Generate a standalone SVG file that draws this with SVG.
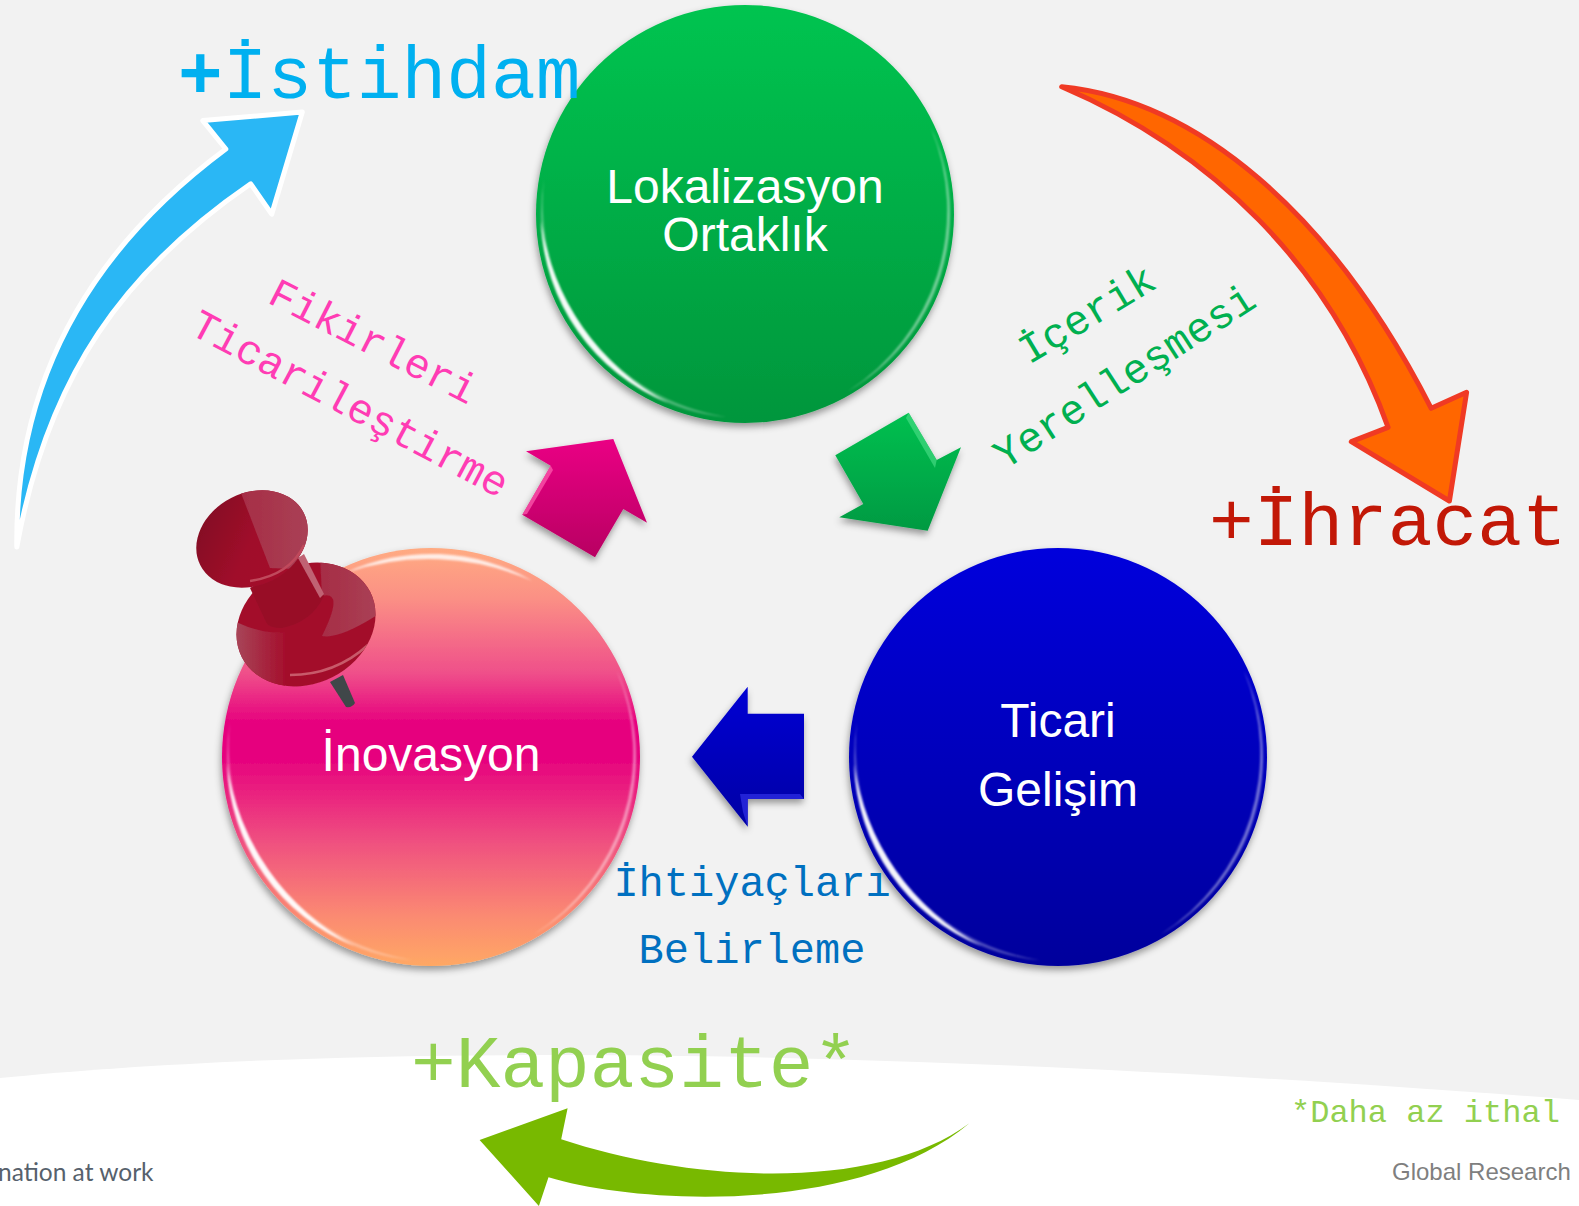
<svg xmlns="http://www.w3.org/2000/svg" xmlns:xlink="http://www.w3.org/1999/xlink" width="1579" height="1206" viewBox="0 0 1579 1206">
<style>
.mono{font-family:"Liberation Mono","DejaVu Sans Mono",monospace}
.sans{font-family:"Liberation Sans",Arial,sans-serif}
.node{font-size:48px;fill:#fff;text-anchor:middle}
.big{font-size:74.5px}
.mid{font-size:42px}
</style>
<defs>
<linearGradient id="gGreen" x1="0" y1="0" x2="0" y2="1"><stop offset="0" stop-color="#00c450"/><stop offset="1" stop-color="#00963c"/></linearGradient>
<linearGradient id="gPink" x1="0" y1="0" x2="0" y2="1"><stop offset="0" stop-color="#ffab82"/><stop offset=".12" stop-color="#fb9085"/><stop offset=".3" stop-color="#ef4f8a"/><stop offset=".42" stop-color="#e6007e"/><stop offset=".5" stop-color="#e6007e"/><stop offset=".7" stop-color="#ef4f80"/><stop offset=".88" stop-color="#fb8a72"/><stop offset="1" stop-color="#ffa864"/></linearGradient>
<linearGradient id="gBlue" x1="0" y1="0" x2="0" y2="1"><stop offset="0" stop-color="#0000dc"/><stop offset="1" stop-color="#00009c"/></linearGradient>
<linearGradient id="aPink" x1="0" y1="0" x2="0" y2="1"><stop offset="0" stop-color="#ea0084"/><stop offset="1" stop-color="#b80062"/></linearGradient>
<linearGradient id="aGreen" x1="0" y1="0" x2="0" y2="1"><stop offset="0" stop-color="#00c050"/><stop offset="1" stop-color="#009a42"/></linearGradient>
<linearGradient id="aBlue" x1="0" y1="0" x2="0" y2="1"><stop offset="0" stop-color="#0000d4"/><stop offset="1" stop-color="#0000a4"/></linearGradient>
<linearGradient id="pinDark" x1="0" y1="0" x2="1" y2="1"><stop offset="0" stop-color="#7c0e22"/><stop offset=".5" stop-color="#a00e2a"/><stop offset="1" stop-color="#a50f2d"/></linearGradient>
<linearGradient id="pinLight" x1="0" y1="0" x2="1" y2="0"><stop offset="0" stop-color="#a62c45"/><stop offset="1" stop-color="#aa4458"/></linearGradient>
<linearGradient id="pinLeft" x1="0" y1="0" x2="1" y2="0"><stop offset="0" stop-color="#a84a5c"/><stop offset="1" stop-color="#a50f2d"/></linearGradient>
<clipPath id="headClip"><ellipse cx="252" cy="539" rx="58" ry="46" transform="rotate(-27 252 539)"/></clipPath>
<clipPath id="baseClip"><ellipse cx="306" cy="624.5" rx="72" ry="59" transform="rotate(-27 306 624.5)"/></clipPath>
<filter id="shadow" x="-15%" y="-15%" width="130%" height="130%"><feDropShadow dx="-1" dy="4" stdDeviation="3.5" flood-color="#000" flood-opacity=".38"/></filter>
<filter id="soft" x="-20%" y="-20%" width="140%" height="140%"><feGaussianBlur stdDeviation="1"/></filter>
<filter id="pinBlur" x="-10%" y="-10%" width="120%" height="120%"><feGaussianBlur stdDeviation=".6"/></filter>
<g id="gloss">
<path d="M-17.8 203.2A204 204 0 0 1-200.9-35.4A217 217 0 0 0-17.8 203.2Z" fill="#fff" opacity=".3" filter="url(#soft)"/>
<path d="M-76.4 189.1A204 204 0 0 1-203.9 7.1A242 242 0 0 0-76.4 189.1Z" fill="#fff" opacity=".95" filter="url(#soft)"/>
<path d="M185.8-86.6A205 205 0 0 1 102.5 177.5A215 215 0 0 0 185.8-86.6Z" fill="#fff" opacity=".45" filter="url(#soft)"/>
</g>
</defs>
<rect width="1579" height="1206" fill="#f2f2f2"/>
<path d="M0 1078C300 1048 800 1040 1579 1100V1206H0Z" fill="#fff"/>
<g id="node-lokalizasyon">
<circle cx="745" cy="214" r="209" fill="url(#gGreen)" filter="url(#shadow)"/>
<use xlink:href="#gloss" href="#gloss" transform="translate(745 214)"/>
<text class="sans node" x="745" y="203">Lokalizasyon</text>
<text class="sans node" x="745" y="251">Ortaklık</text>
</g>
<g id="node-inovasyon">
<circle cx="431" cy="757" r="209" fill="url(#gPink)" filter="url(#shadow)"/>
<use xlink:href="#gloss" href="#gloss" transform="translate(431 757)"/>
<path d="M345.2 573A203 203 0 0 1 532.5 581A257 257 0 0 0 345.2 573Z" fill="#fff" opacity=".8" filter="url(#soft)"/>
<text class="sans node" x="431" y="771">İnovasyon</text>
</g>
<g id="node-ticari">
<circle cx="1058" cy="757" r="209" fill="url(#gBlue)" filter="url(#shadow)"/>
<use xlink:href="#gloss" href="#gloss" transform="translate(1058 757)"/>
<text class="sans node" x="1058" y="737">Ticari</text>
<text class="sans node" x="1058" y="806">Gelişim</text>
</g>
<g id="connectors">
<path d="M526 451.3L613.3 439L647 522.7L623.3 509L595 557.3L522.3 514.7L550.7 465.7Z" fill="url(#aPink)" filter="url(#shadow)"/>
<path d="M550.7 465.7L522.3 514.7L527 514L553 470" fill="#ff5fb0" opacity=".7"/>
<path d="M908.7 412.7L936.7 460L961 447.3L927.7 530.7L839.3 517.3L863.3 504L835.3 455.3Z" fill="url(#aGreen)" filter="url(#shadow)"/>
<path d="M908.7 412.7L936.7 460L935 468L906 418Z" fill="#4fe08a" opacity=".6"/>
<path d="M692 756.7L747.7 686.7V713.7H804V799H747.7V826.7Z" fill="url(#aBlue)" filter="url(#shadow)"/>
<path d="M740 794H800L804 799H747.7V826.7L743 812Z" fill="#2a2ae0" opacity=".8"/>
<path d="M1061.7 86.7C1195 100 1330 210 1431.2 408.3L1466.6 392.3L1449.4 501L1351.3 441.7L1388.1 427.3C1330 265 1210 150 1061.7 86.7Z" fill="#ff6600" stroke="#f03a24" stroke-width="5" stroke-linejoin="round"/>
<path d="M16.8 547C15 380 90 250 225.8 149L202.8 120.6L302.3 112L271.7 214.2L250.7 183.8C125 270 48 375 16.8 547Z" fill="#2ab7f5" stroke="#fff" stroke-width="5" stroke-linejoin="round"/>
<path d="M969.4 1123.3C880 1190 700 1185 561.2 1139.3L567.6 1108.3L479.6 1140L538.9 1206L548.5 1177.3C640 1205 860 1215 969.4 1123.3Z" fill="#78b900"/>
</g>
<g id="pin" filter="url(#pinBlur)">
<path d="M330 682L343 675L355 703Q352 708 346 707Z" fill="#3f4648"/>
<ellipse cx="306" cy="624.5" rx="72" ry="59" transform="rotate(-27 306 624.5)" fill="#a30f2c"/>
<g clip-path="url(#baseClip)">
<path d="M322 596Q345 590 322 636Q340 640 385 610L370 555L320 555Z" fill="url(#pinLight)"/>
<path d="M232 620Q262 635 285 632V690H232Z" fill="url(#pinLeft)"/>
<path d="M290 675Q335 675 368 645" fill="none" stroke="#c85a6a" stroke-width="2.5"/>
</g>
<path d="M250 588L302 556L324 596Q312 622 282 628Q268 628 266 622Z" fill="#980d28"/>
<path d="M298 558L304 554L324 594L320 598Z" fill="#c06273"/>
<ellipse cx="252" cy="539" rx="58" ry="46" transform="rotate(-27 252 539)" fill="url(#pinDark)"/>
<g clip-path="url(#headClip)">
<path d="M236 480L320 480L320 570L270 568Z" fill="url(#pinLight)"/>
<path d="M250 581Q290 575 304 545" fill="none" stroke="#c04a5c" stroke-width="2.5"/>
</g>
</g>
<g id="labels">
<text class="mono big" x="178" y="98" fill="#00b0f0"><tspan font-weight="bold">+</tspan>İstihdam</text>
<text class="mono big" x="1209" y="545" fill="#c21807">+İhracat</text>
<text class="mono big" x="411" y="1087" fill="#92d050">+Kapasite*</text>
<text class="mono" font-size="32" x="1291" y="1122" fill="#92d050">*Daha az ithal</text>
<text class="sans" font-size="24" x="1392" y="1180" fill="#7f7f7f">Global Research</text>
<text font-family="Lato,'Noto Sans',sans-serif" font-size="24.5" x="-2" y="1181" fill="#56616c">nation at work</text>
<text class="mono mid" x="752" y="896" text-anchor="middle" fill="#0070c0">İhtiyaçları</text>
<text class="mono mid" x="752" y="963" text-anchor="middle" fill="#0070c0">Belirleme</text>
<text class="mono mid" transform="translate(266 302) rotate(27)" fill="#ff3cb4">Fikirleri</text>
<text class="mono mid" transform="translate(188 333) rotate(28)" fill="#ff3cb4">Ticarileştirme</text>
<text class="mono mid" transform="translate(1029 365) rotate(-31)" fill="#00b050">İçerik</text>
<text class="mono mid" transform="translate(1005 470) rotate(-33)" fill="#00b050">Yerelleşmesi</text>
</g>
</svg>
